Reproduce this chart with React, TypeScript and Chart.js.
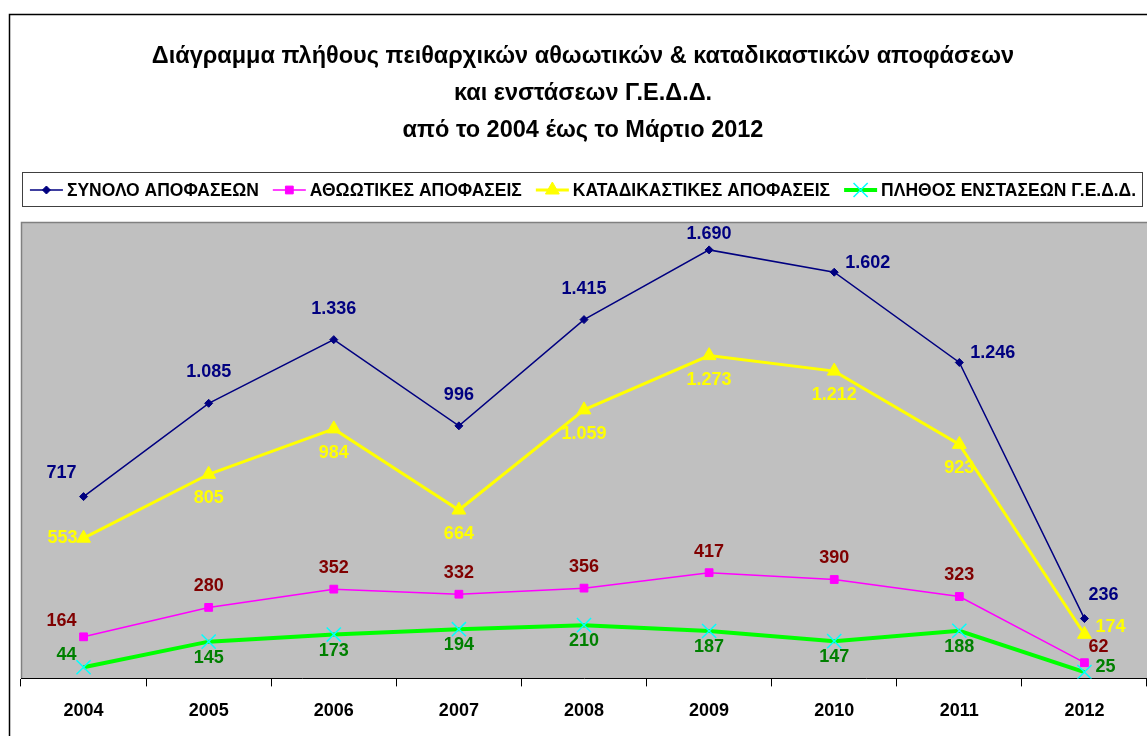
import React, { useEffect, useRef } from "react";
import { Chart, registerables } from "chart.js";

Chart.register(...registerables);

const years = ["2004", "2005", "2006", "2007", "2008", "2009", "2010", "2011", "2012"];
const totalDecisions = [717, 1085, 1336, 996, 1415, 1690, 1602, 1246, 236];
const acquittals = [164, 280, 352, 332, 356, 417, 390, 323, 62];
const convictions = [553, 805, 984, 664, 1059, 1273, 1212, 923, 174];
const objections = [44, 145, 173, 194, 210, 187, 147, 188, 25];

const titleLines = [
  "Διάγραμμα πλήθους πειθαρχικών αθωωτικών & καταδικαστικών αποφάσεων",
  "και ενστάσεων Γ.Ε.Δ.Δ.",
  "από το 2004 έως το Μάρτιο 2012",
];

const seriesNames = [
  "ΣΥΝΟΛΟ ΑΠΟΦΑΣΕΩΝ",
  "ΑΘΩΩΤΙΚΕΣ ΑΠΟΦΑΣΕΙΣ",
  "ΚΑΤΑΔΙΚΑΣΤΙΚΕΣ ΑΠΟΦΑΣΕΙΣ",
  "ΠΛΗΘΟΣ ΕΝΣΤΑΣΕΩΝ Γ.Ε.Δ.Δ.",
];

// label placement codes per series
const labelPlacement = [
  ["NW", "N", "N", "N", "N", "Nc", "E", "E", "NE"],
  ["NW", "N", "N", "N", "N", "N", "N", "N", "NE"],
  ["W", "S", "S", "S", "S", "S", "S", "S", "E"],
  ["NW", "S", "S", "S", "S", "S", "S", "S", "E"],
];
const labelDist = [31, 21, 24, 16];
const labelColors = ["#000080", "#800000", "#ffff00", "#008000"];

const FONT = '"Liberation Sans", Arial, sans-serif';

function fmt(v: number) {
  const s = String(v);
  return s.length > 3 ? s.slice(0, s.length - 3) + "." + s.slice(s.length - 3) : s;
}

function drawMarker(ctx: any, style: string, x: number, y: number, r: number, fill: string, stroke: string, bw: number) {
  ctx.save();
  ctx.fillStyle = fill;
  ctx.strokeStyle = stroke;
  ctx.lineWidth = bw;
  ctx.beginPath();
  if (style === "rectRot") {
    ctx.moveTo(x, y - r);
    ctx.lineTo(x + r, y);
    ctx.lineTo(x, y + r);
    ctx.lineTo(x - r, y);
    ctx.closePath();
    ctx.fill();
    ctx.stroke();
  } else if (style === "rect") {
    const s = r * Math.SQRT1_2;
    ctx.rect(x - s, y - s, 2 * s, 2 * s);
    ctx.fill();
    ctx.stroke();
  } else if (style === "triangle") {
    ctx.moveTo(x, y - r);
    ctx.lineTo(x + r * 0.866, y + r * 0.5);
    ctx.lineTo(x - r * 0.866, y + r * 0.5);
    ctx.closePath();
    ctx.fill();
    ctx.stroke();
  } else if (style === "crossRot") {
    const s = r * Math.SQRT1_2;
    ctx.moveTo(x - s, y - s);
    ctx.lineTo(x + s, y + s);
    ctx.moveTo(x + s, y - s);
    ctx.lineTo(x - s, y + s);
    ctx.stroke();
  }
  ctx.restore();
}

const framePlugin = {
  id: "frame",
  beforeDraw(chart: any) {
    const { ctx, chartArea } = chart;
    ctx.save();
    ctx.fillStyle = "#ffffff";
    ctx.fillRect(0, 0, chart.width, chart.height);
    // outer border
    ctx.strokeStyle = "#000000";
    ctx.lineWidth = 1.5;
    ctx.beginPath();
    ctx.moveTo(9.5, chart.height);
    ctx.lineTo(9.5, 14.5);
    ctx.lineTo(chart.width, 14.5);
    ctx.stroke();
    // plot background
    ctx.fillStyle = "#c0c0c0";
    ctx.fillRect(chartArea.left, chartArea.top, chartArea.right - chartArea.left, chartArea.bottom - chartArea.top);
    ctx.strokeStyle = "#808080";
    ctx.lineWidth = 1.5;
    ctx.beginPath();
    ctx.moveTo(chartArea.left + 0.5, chartArea.bottom);
    ctx.lineTo(chartArea.left + 0.5, chartArea.top + 0.5);
    ctx.lineTo(chartArea.right, chartArea.top + 0.5);
    ctx.stroke();
    // title
    ctx.fillStyle = "#000000";
    ctx.font = "bold 23.5px " + FONT;
    ctx.textAlign = "center";
    ctx.textBaseline = "middle";
    const cx = 583;
    const ys = [57, 94, 131];
    titleLines.forEach((t, i) => ctx.fillText(t, cx, ys[i]));
    // legend box
    ctx.strokeStyle = "#404040";
    ctx.lineWidth = 1;
    ctx.strokeRect(22.5, 172.5, 1120, 34);
    ctx.font = "bold 17.5px " + FONT;
    const lineW = 33;
    const gapAfterLine = 4;
    const gapItems = 14;
    const widths = seriesNames.map((n) => ctx.measureText(n).width);
    const total = widths.reduce((a, b) => a + b, 0) + seriesNames.length * (lineW + gapAfterLine) + (seriesNames.length - 1) * gapItems;
    let x = 583 - total / 2;
    const ly = 190;
    chart.data.datasets.forEach((ds: any, i: number) => {
      ctx.strokeStyle = ds.borderColor;
      ctx.lineWidth = ds.borderWidth;
      ctx.beginPath();
      ctx.moveTo(x, ly);
      ctx.lineTo(x + lineW, ly);
      ctx.stroke();
      const mx = x + lineW / 2;
      drawMarker(ctx, ds.pointStyle, mx, ly, ds.pointRadius, ds.pointBackgroundColor, ds.pointBorderColor, ds.pointBorderWidth);
      x += lineW + gapAfterLine;
      ctx.fillStyle = "#000000";
      ctx.textAlign = "left";
      ctx.fillText(seriesNames[i], x, ly + 1);
      x += widths[i] + gapItems;
    });
    ctx.restore();
  },
  afterDatasetsDraw(chart: any) {
    const { ctx } = chart;
    ctx.save();
    ctx.font = "bold 18px " + FONT;
    ctx.textBaseline = "middle";
    chart.data.datasets.forEach((ds: any, i: number) => {
      const meta = chart.getDatasetMeta(i);
      const d = labelDist[i];
      ctx.fillStyle = labelColors[i];
      meta.data.forEach((pt: any, j: number) => {
        const code = labelPlacement[i][j];
        const text = fmt(ds.data[j]);
        let x = pt.x;
        let y = pt.y;
        let align: CanvasTextAlign = "center";
        if (code === "N") y -= d;
        else if (code === "Nc") y -= d * 0.5;
        else if (code === "S") y += d;
        else if (code === "E") { x += 11; align = "left"; y -= d * 0.3; }
        else if (code === "W") { x -= 6; align = "right"; }
        else if (code === "NW") { x -= 7; y -= d * 0.75; align = "right"; }
        else if (code === "NE") { x += 4; y -= d * 0.75; align = "left"; }
        ctx.textAlign = align;
        ctx.fillText(text, x, y);
      });
    });
    ctx.restore();
  },
};

export default function App() {
  const ref = useRef<HTMLCanvasElement | null>(null);
  useEffect(() => {
    if (!ref.current) return;
    const chart = new Chart(ref.current, {
      type: "line",
      data: {
        labels: years,
        datasets: [
          {
            label: seriesNames[0],
            data: totalDecisions,
            borderColor: "#000080",
            backgroundColor: "#000080",
            borderWidth: 1.5,
            pointStyle: "rectRot",
            pointRadius: 4,
            pointBackgroundColor: "#000080",
            pointBorderColor: "#000080",
            pointBorderWidth: 1,
            tension: 0,
          },
          {
            label: seriesNames[1],
            data: acquittals,
            borderColor: "#ff00ff",
            backgroundColor: "#ff00ff",
            borderWidth: 1.5,
            pointStyle: "rect",
            pointRadius: 5.5,
            pointBackgroundColor: "#ff00ff",
            pointBorderColor: "#ff00ff",
            pointBorderWidth: 1,
            tension: 0,
          },
          {
            label: seriesNames[2],
            data: convictions,
            borderColor: "#ffff00",
            backgroundColor: "#ffff00",
            borderWidth: 3,
            pointStyle: "triangle",
            pointRadius: 8,
            pointBackgroundColor: "#ffff00",
            pointBorderColor: "#ffff00",
            pointBorderWidth: 1,
            tension: 0,
          },
          {
            label: seriesNames[3],
            data: objections,
            borderColor: "#00ff00",
            backgroundColor: "#00ff00",
            borderWidth: 4,
            pointStyle: "crossRot",
            pointRadius: 10,
            pointBackgroundColor: "#00ffff",
            pointBorderColor: "#00ffff",
            pointBorderWidth: 1.5,
            tension: 0,
          },
        ],
      },
      options: {
        responsive: false,
        animation: false,
        devicePixelRatio: 1,
        layout: { autoPadding: false, padding: { top: 222, left: 21, right: 0, bottom: 0 } },
        plugins: {
          legend: { display: false },
          title: { display: false },
          tooltip: { enabled: false },
        },
        scales: {
          x: {
            offset: true,
            grid: {
              offset: true,
              drawOnChartArea: false,
              drawTicks: true,
              tickLength: 8,
              color: "#000000",
              lineWidth: 1,
            },
            border: { display: true, color: "#000000", width: 1 },
            ticks: {
              color: "#000000",
              font: { family: FONT, size: 18, weight: "bold" },
              padding: 14,
              maxRotation: 0,
            },
          },
          y: {
            display: false,
            min: 0,
            max: 1800,
          },
        },
      },
      plugins: [framePlugin],
    });
    return () => chart.destroy();
  }, []);
  return (
    <div style={{ position: "absolute", left: 0, top: 0, width: 1147, height: 736 }}>
      <canvas ref={ref} width={1147} height={736} style={{ display: "block" }} />
    </div>
  );
}
